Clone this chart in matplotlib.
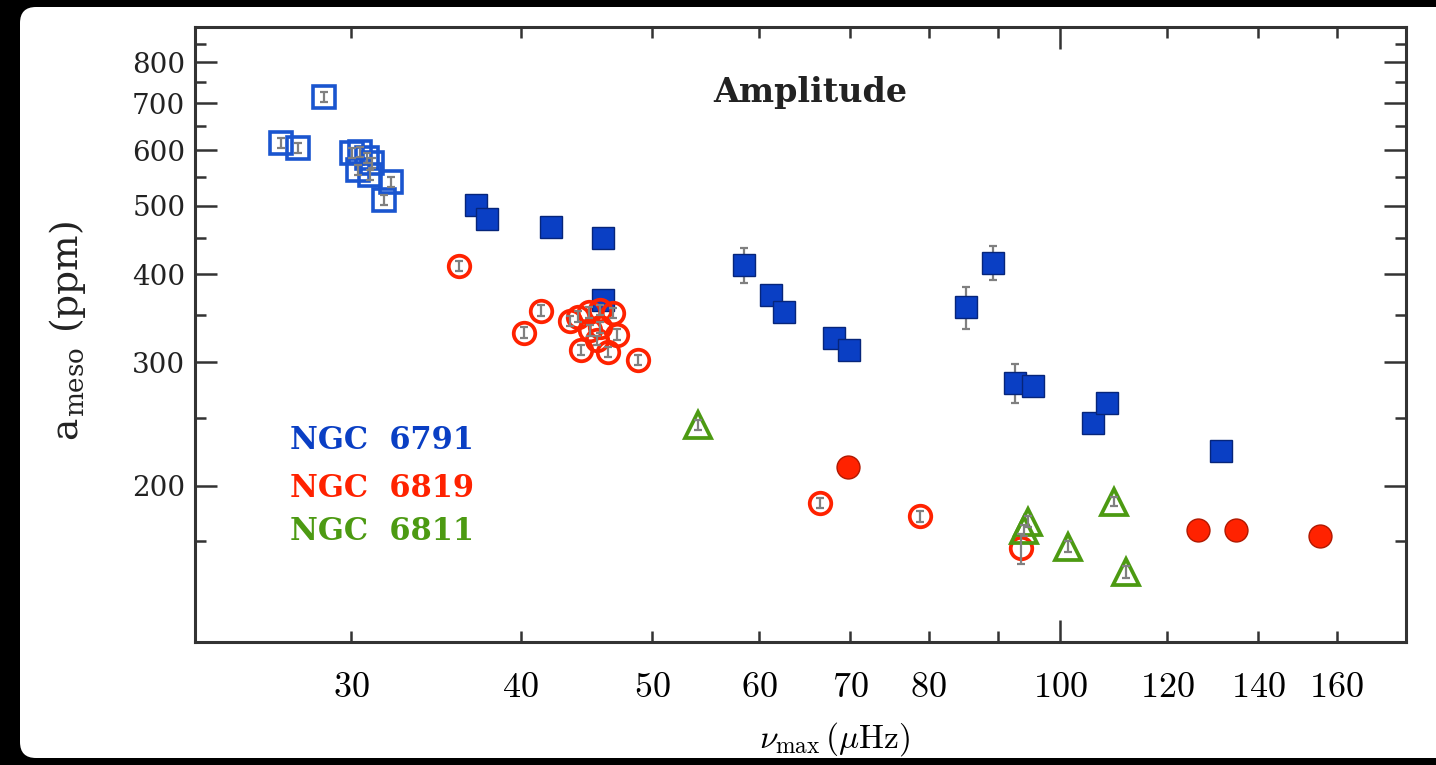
import numpy as np
import matplotlib
matplotlib.use("Agg")
import matplotlib.pyplot as plt
from matplotlib.patches import FancyBboxPatch
from matplotlib.ticker import FixedLocator, FixedFormatter, NullFormatter

plt.rcParams['mathtext.fontset'] = 'cm'

# NGC 6791, open squares
n6791_open_nu = [26.6, 27.4, 28.65, 30.05, 30.46, 30.82, 31.08, 30.36, 30.98, 32.1, 31.7]
n6791_open_a = [614, 604, 714, 594, 596, 585, 575, 562, 553, 541, 510]
n6791_open_err = [10, 10, 12, 10, 10, 10, 9, 9, 9, 9, 8]

# NGC 6791, filled squares
n6791_fill_nu = [37.1, 37.8, 42.1, 46.0, 46.0, 58.5, 61.2, 62.6, 68.1, 69.9,
                 85.3, 89.3, 92.6, 95.5, 105.8, 108.3, 131.4]
n6791_fill_a = [501, 479, 467, 450, 367, 412, 373, 353, 325, 312,
                359, 415, 280, 277, 246, 262, 224]
n6791_fill_err = [8, 8, 8, 8, 6, 23, 7, 6, 6, 6,
                  25, 23, 18, 5, 5, 5, 4]

# NGC 6819, open circles
n6819_open_nu = [36.0, 41.4, 40.2, 43.5, 44.1, 44.9, 45.8, 46.8, 47.1, 44.3,
                 46.4, 45.5, 45.8, 45.0, 48.8, 66.5, 78.8, 93.6]
n6819_open_a = [411, 355, 330, 343, 348, 353, 356, 352, 328, 312,
                310, 322, 336, 333, 302, 189, 181, 163]
n6819_open_err = [7, 6, 6, 6, 6, 6, 6, 6, 6, 5,
                  5, 5, 6, 6, 5, 3, 3, 8]

# NGC 6819, filled circles
n6819_fill_nu = [69.8, 126.4, 134.8, 155.5]
n6819_fill_a = [213, 173, 173, 170]
n6819_fill_err = [4, 3, 3, 3]

# NGC 6811, open triangles
n6811_nu = [54.1, 94.7, 94.1, 101.4, 109.6, 111.9]
n6811_a = [244, 178, 173, 164, 190, 151]
n6811_err = [4, 3, 3, 3, 3, 3]

x_minor = [30, 40, 50, 60, 70, 80, 90, 120, 140, 160]
x_minor_labels = ['30', '40', '50', '60', '70', '80', '', '120', '140', '160']
y_major = [200, 300, 400, 500, 600, 700, 800]
y_minor = [167, 250, 350, 450, 550, 650, 750, 850]

BLUE = '#0a3fc4'
BLUE_OPEN = '#1a55cf'
RED = '#ff2200'
GREEN = '#4c9a12'
GRAY = '#808080'

fig = plt.figure(figsize=(14.36, 7.65), dpi=100, facecolor='black')
panel = FancyBboxPatch((0.20, 0.07), 14.5, 7.51,
                       boxstyle="round,pad=0,rounding_size=0.16",
                       transform=fig.dpi_scale_trans, fc='white', ec='none',
                       zorder=-10)
fig.patches.append(panel)

ax = fig.add_axes([0.1358, 0.1608, 0.8433, 0.8039])
ax.set_zorder(5)
ax.set_facecolor('white')
ax.set_xscale('log')
ax.set_yscale('log')

eb = dict(fmt='none', ecolor=GRAY, elinewidth=1.6, capsize=3, capthick=1.6)

# filled markers: bars behind
ax.errorbar(n6791_fill_nu, n6791_fill_a, yerr=n6791_fill_err, zorder=2, **eb)
ax.plot(n6791_fill_nu, n6791_fill_a, 's', ms=16, mfc=BLUE, mec='#06257a',
        mew=1.0, zorder=3)

ax.errorbar(n6819_fill_nu, n6819_fill_a, yerr=n6819_fill_err, zorder=2, **eb)
ax.plot(n6819_fill_nu, n6819_fill_a, 'o', ms=16.5, mfc=RED, mec='#b01800',
        mew=1.0, zorder=3)

# open markers: bars on top
ax.plot(n6791_open_nu, n6791_open_a, 's', ms=15.5, mfc='none', mec=BLUE_OPEN,
        mew=2.6, zorder=3)
ax.errorbar(n6791_open_nu, n6791_open_a, yerr=n6791_open_err, zorder=4, **eb)

ax.plot(n6819_open_nu, n6819_open_a, 'o', ms=15.5, mfc='none', mec=RED,
        mew=2.7, zorder=3)
ax.errorbar(n6819_open_nu, n6819_open_a, yerr=n6819_open_err, zorder=4, **eb)

ax.plot(n6811_nu, n6811_a, '^', ms=18.5, mfc='none', mec=GREEN,
        mew=2.7, zorder=3)
ax.errorbar(n6811_nu, n6811_a, yerr=n6811_err, zorder=4, **eb)

ax.set_xlim(23.0, 180)
ax.set_ylim(120, 898)

ax.xaxis.set_major_locator(FixedLocator([100]))
ax.xaxis.set_major_formatter(FixedFormatter(['$100$']))
ax.xaxis.set_minor_locator(FixedLocator(x_minor))
ax.xaxis.set_minor_formatter(FixedFormatter(['$%s$' % s if s else '' for s in x_minor_labels]))

ax.yaxis.set_major_locator(FixedLocator(y_major))
ax.yaxis.set_major_formatter(FixedFormatter([str(v) for v in y_major]))
ax.yaxis.set_minor_locator(FixedLocator(y_minor))
ax.yaxis.set_minor_formatter(NullFormatter())

ax.tick_params(which='both', direction='in', top=True, right=True,
               width=1.8, color='#333333')
ax.tick_params(which='major', length=16)
ax.tick_params(which='minor', length=8)
ax.tick_params(axis='x', which='both', labelsize=26, pad=20)
ax.tick_params(axis='y', which='major', labelsize=20, pad=7, labelcolor='#222222')
for lab in ax.get_yticklabels():
    lab.set_family('DejaVu Serif')

for sp in ax.spines.values():
    sp.set_linewidth(2.2)
    sp.set_color('#333333')

ax.set_xlabel(r'$\nu_{\rm max}\,(\mu{\rm Hz})$', fontsize=24)
ax.xaxis.set_label_coords(0.528, -0.127)
ax.set_ylabel(r'a$_\mathregular{meso}$ (ppm)', fontsize=27,
              family='DejaVu Serif', color='#222222')
ax.yaxis.set_label_coords(-0.088, 0.505)

ax.text(0.508, 0.894, 'Amplitude', transform=ax.transAxes, ha='center',
        va='center', fontsize=24, family='DejaVu Serif', weight='bold',
        color='#222222')

for label, col, yy in [('NGC  6791', BLUE, 0.328), ('NGC  6819', RED, 0.250),
                       ('NGC  6811', GREEN, 0.179)]:
    ax.text(0.0784, yy, label, transform=ax.transAxes, ha='left', va='center',
            fontsize=22, family='DejaVu Serif', weight='bold', color=col)

fig.savefig('out.png', dpi=100, facecolor='black')
